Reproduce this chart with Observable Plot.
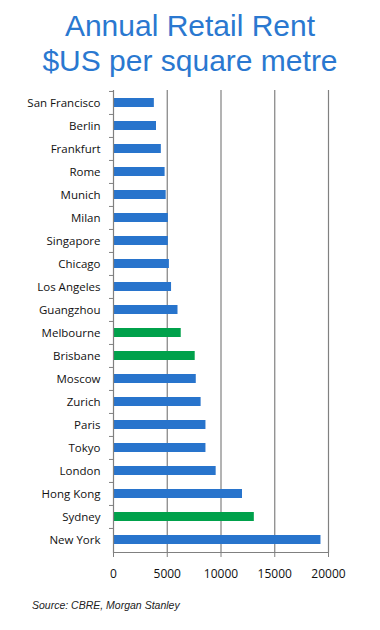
<!DOCTYPE html>
<html>
<head>
<meta charset="utf-8">
<script src="https://cdn.jsdelivr.net/npm/d3@7"></script>
<script src="https://cdn.jsdelivr.net/npm/@observablehq/plot@0.6"></script>
<style>
  body { margin: 0; background: #fff; width: 380px; height: 630px; overflow: hidden; }
  #title { font-family: "Liberation Sans", Arial, sans-serif; font-size: 30px; color: #2A78D0;
           text-align: center; line-height: 35px; height: 80px; padding-top: 8px; box-sizing: border-box; }
  #caption { font-family: "Liberation Sans", Arial, sans-serif; font-style: italic; font-size: 10.5px;
             color: #222; padding-left: 32px; line-height: 13px; }
  svg { display: block; }
</style>
</head>
<body>
<div id="title">Annual Retail Rent<br>$US per square metre</div>
<div id="chart"></div>
<div id="caption">Source: CBRE, Morgan Stanley</div>
<script>
const cities = ["San Francisco","Berlin","Frankfurt","Rome","Munich","Milan","Singapore","Chicago","Los Angeles","Guangzhou","Melbourne","Brisbane","Moscow","Zurich","Paris","Tokyo","London","Hong Kong","Sydney","New York"];
const rents  = [3800,4000,4450,4800,4900,5100,5100,5200,5400,6000,6300,7600,7700,8150,8600,8600,9550,12000,13100,19300];
const australian = ["Melbourne","Brisbane","Sydney"];
const xTicks = [0,5000,10000,15000,20000];

const data = cities.map((c, i) => ({city: c, rent: rents[i], au: australian.includes(c)}));

const H = 519, mTop = 10, mBottom = 47;
const step = (H - mTop - mBottom) / cities.length;

const chart = Plot.plot({
  width: 380,
  height: H,
  marginTop: mTop,
  marginBottom: mBottom,
  marginLeft: 113,
  marginRight: 52,
  style: {fontFamily: "'Open Sans', sans-serif", color: "#111", background: "#fff"},
  x: {domain: [0, 20000], ticks: xTicks, label: null},
  y: {domain: cities, paddingInner: 0.6, paddingOuter: 0.3, label: null},
  marks: [
    Plot.gridX(xTicks.filter(d => d > 0), {stroke: "#808080", strokeOpacity: 1, strokeWidth: 1.2}),
    Plot.barX(data, {x: "rent", y: "city", fill: d => d.au ? "#00A14B" : "#2874CC"}),
    Plot.ruleX([0], {stroke: "#808080", strokeWidth: 1.2}),
    Plot.axisX({ticks: xTicks, tickSize: 5, tickPadding: 12, tickFormat: d => String(d), fontSize: 12, stroke: "#808080", strokeOpacity: 1, color: "#111", label: null}),
    Plot.axisY({tickSize: 4, text: null, dy: -step / 2, stroke: "#808080", strokeOpacity: 1, label: null}),
    Plot.axisY({tickSize: 0, tickPadding: 13, fontSize: 11.5, color: "#111", label: null}),
    Plot.frame({anchor: "bottom", stroke: "#808080", strokeWidth: 1.2})
  ]
});
document.getElementById("chart").appendChild(chart);
</script>
</body>
</html>
